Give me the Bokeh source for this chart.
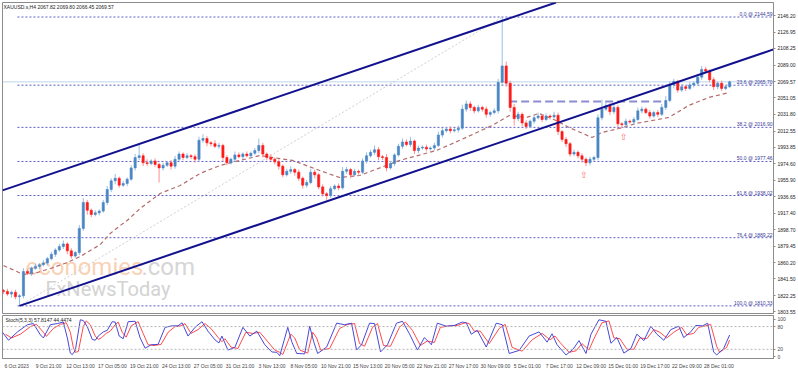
from bokeh.plotting import figure
from bokeh.models import Range1d, FixedTicker, Span, NumeralTickFormatter
from bokeh.layouts import column
from bokeh.embed import file_html
from bokeh.resources import INLINE
from bokeh.core.properties import value

FONT = "Liberation Sans"
SMALL = "5px"

# ---------------- data (bar index = one candle, ~8h) ----------------
first_open = 1828
closes = [
    1827, 1824, 1826, 1821, 1822, 1850, 1848, 1854, 1856, 1858,
    1860, 1865, 1870, 1875, 1879, 1882, 1874, 1868, 1872, 1900,
    1930, 1921, 1916, 1918, 1920, 1930, 1945, 1955, 1958, 1950,
    1952, 1957, 1970, 1982, 1984, 1976, 1975, 1978, 1974, 1970,
    1973, 1976, 1972, 1980, 1986, 1982, 1984, 1983, 1980, 2002,
    2004, 1999, 1998, 1995, 1996, 1982, 1976, 1980, 1985, 1983,
    1986, 1984, 1987, 1990, 1996, 1986, 1982, 1980, 1977, 1972,
    1962, 1966, 1968, 1965, 1958, 1950, 1953, 1965, 1962, 1948,
    1940, 1938, 1946, 1949, 1947, 1966, 1968, 1962, 1966, 1965,
    1978, 1984, 1988, 1991, 1983, 1982, 1970, 1975, 1985, 1995,
    2000, 1997, 2001, 1990, 1993, 1994, 1992, 1993, 1996, 2008,
    2013, 2015, 2013, 2014, 2016, 2038, 2044, 2040, 2036, 2040,
    2038, 2032, 2034, 2036, 2069, 2088, 2068, 2040, 2027, 2032,
    2022, 2018, 2024, 2028, 2030, 2026, 2030, 2029, 2031, 2012,
    2003, 1998, 1986, 1988, 1984, 1980, 1976, 1980, 1982, 2028,
    2038, 2042, 2035, 2040, 2021, 2020, 2024, 2023, 2026, 2036,
    2038, 2034, 2030, 2034, 2032, 2040, 2048, 2066, 2070, 2060,
    2064, 2062, 2066, 2068, 2075, 2084, 2082, 2072, 2064, 2068,
    2062, 2064, 2069.57,
]
wick_up = [
    2, 3, 2, 3, 2, 4, 3, 2, 3, 2,
    3, 2, 3, 2, 3, 4, 2, 3, 2, 4,
    5, 3, 2, 3, 2, 3, 4, 3, 5, 2,
    3, 2, 3, 4, 14, 3, 4, 2, 3, 2,
    3, 2, 3, 4, 3, 2, 3, 2, 3, 4,
    5, 3, 2, 4, 3, 2, 3, 2, 4, 3,
    2, 3, 2, 3, 8, 3, 2, 4, 2, 3,
    2, 3, 4, 2, 3, 2, 3, 4, 3, 2,
    3, 2, 3, 2, 3, 5, 3, 2, 3, 2,
    3, 4, 3, 5, 3, 2, 4, 3, 2, 3,
    4, 3, 5, 2, 3, 2, 3, 2, 3, 4,
    3, 2, 3, 2, 3, 5, 4, 3, 2, 3,
    2, 3, 2, 3, 4, 56.59, 5, 3, 4, 3,
    2, 3, 2, 3, 4, 2, 3, 2, 4, 3,
    2, 3, 2, 3, 2, 3, 2, 3, 2, 4,
    11, 4, 3, 4, 3, 2, 3, 2, 3, 4,
    3, 2, 3, 2, 3, 4, 5, 4, 3, 2,
    3, 2, 3, 2, 4, 4, 3, 2, 3, 2,
    3, 2, 1.5,
]
wick_dn = [
    3, 2, 4, 3, 10.67, 3, 2, 3, 2, 3,
    2, 3, 2, 3, 2, 3, 4, 3, 2, 3,
    3, 5, 3, 2, 3, 2, 3, 3, 4, 3,
    2, 3, 2, 3, 3, 4, 3, 2, 3, 17,
    3, 2, 4, 3, 2, 3, 2, 3, 4, 3,
    3, 4, 3, 2, 3, 4, 3, 2, 3, 2,
    3, 2, 3, 2, 3, 4, 3, 2, 3, 4,
    3, 2, 3, 4, 3, 4, 3, 2, 4, 3,
    3, 5, 3, 2, 3, 2, 3, 4, 2, 3,
    2, 3, 2, 3, 4, 3, 4, 2, 3, 2,
    3, 2, 3, 4, 3, 2, 3, 2, 3, 2,
    3, 2, 3, 2, 3, 2, 3, 4, 3, 2,
    3, 4, 3, 2, 3, 3, 4, 5, 8, 3,
    4, 3, 2, 3, 2, 3, 2, 3, 2, 4,
    3, 4, 3, 2, 3, 4, 4, 3, 2, 3,
    3, 2, 4, 3, 4, 4, 3, 2, 3, 2,
    3, 2, 3, 2, 3, 2, 3, 2, 4, 3,
    2, 3, 2, 3, 2, 3, 2, 3, 4, 3,
    3, 2, 1.5,
]

# moving average (bar, price)
ma_points = [(0, 1857), (5, 1846.6), (8.5, 1848.9), (11.75, 1853.6), (16, 1860.5),
             (19.25, 1867.5), (21.75, 1874.4), (24.25, 1881.3), (26.75, 1894.1),
             (29.25, 1903.3), (31, 1909.1), (34.25, 1923), (39.25, 1940.4),
             (44.25, 1949.6), (49.25, 1963.5), (54.25, 1972.8), (59.25, 1978.6),
             (64.25, 1984.3), (72.5, 1978.6), (79.25, 1967), (84.25, 1958.9),
             (89.25, 1961.2), (99.25, 1978.6), (108.5, 1990.1), (114.25, 2001.7),
             (122.5, 2019.1), (126.75, 2030.6), (131, 2028.3), (134.25, 2033),
             (138.5, 2024.9), (141.75, 2016.8), (147.5, 2005.2), (150, 2011),
             (154.25, 2015.6), (158.5, 2021.4), (166.75, 2028.3), (171.75, 2042.2),
             (176.75, 2051.5), (182, 2057.3)]

# Fibonacci retracement
fib_pcts = [0.0, 23.6, 38.2, 50.0, 61.8, 76.4, 100.0]
fib_prices = [2144.59, 2065.70, 2016.90, 1977.46, 1938.02, 1889.22, 1810.33]
fib_start_bar = 3.5
fib_trend_bars = [4, 125]
fib_trend_prices = [1810.33, 2144.59]

# channel lines
chan_lower_bars = [4, 193]
chan_lower_prices = [1810.33, 2107.1]
chan_upper_bars = [-0.25, 138.5]
chan_upper_prices = [1944.0, 2161.4]

# horizontal resistance (dashed)
res_bars = [126.75, 166]
res_price = 2046.8

# arrow markers
arrow_bars = [145.5, 155.5]
arrow_prices = [1961.2, 2006.3]

last_price = 2069.57
price_ticks = [2146.20, 2126.95, 2108.25, 2089.00, 2069.57, 2051.05, 2031.80, 2012.55,
               1993.85, 1974.60, 1955.90, 1936.65, 1917.40, 1898.70, 1879.45,
               1860.20, 1841.50, 1822.25, 1803.55]

time_labels = ["6 Oct 2023", "9 Oct 21:00", "12 Oct 13:00", "17 Oct 05:00",
               "19 Oct 21:00", "24 Oct 13:00", "27 Oct 05:00", "31 Oct 21:00",
               "3 Nov 13:00", "8 Nov 05:00", "10 Nov 21:00", "15 Nov 13:00",
               "20 Nov 05:00", "22 Nov 21:00", "27 Nov 17:00", "30 Nov 09:00",
               "5 Dec 01:00", "7 Dec 17:00", "12 Dec 09:00", "15 Dec 01:00",
               "19 Dec 17:00", "22 Dec 09:00", "28 Dec 01:00"]
time_label_bars = [8 * j for j in range(len(time_labels))]

stoch_main = [(-0.25, 65), (1.25, 44), (3.5, 66), (6, 85), (7.5, 88), (9.25, 58), (10, 50),
              (11.75, 85), (13.5, 88), (15, 92), (16, 50), (16.75, 10), (17.25, 6), (18, 17),
              (19.25, 98), (20, 96), (21, 80), (22.25, 46), (23, 44), (23.75, 55), (25, 66),
              (26, 70), (27.25, 93), (28, 92), (29, 55), (30, 48), (31.25, 93), (33, 94),
              (34.25, 50), (35.5, 23), (37, 32), (38.75, 33), (40.5, 78), (42.25, 82),
              (43.75, 82), (44.75, 90), (46.25, 55), (48, 78), (49.75, 93), (51.25, 68),
              (53, 45), (54, 37), (54.75, 55), (56.25, 18), (58, 25), (60, 78), (61.75, 55),
              (63.5, 68), (65.5, 32), (67.25, 13), (68.5, 12), (69.25, 3), (71.25, 78),
              (72.25, 40), (73.5, 9), (75.5, 8), (76.75, 81), (77.75, 40), (78.75, 9),
              (81, 26), (83.5, 89), (85.5, 85), (87.25, 89), (88.5, 18), (89.75, 32),
              (91.75, 89), (93, 88), (94.5, 13), (96.25, 32), (98.5, 89), (100, 94),
              (101.75, 61), (103.75, 18), (105.5, 51), (107.25, 32), (108.75, 89), (111, 81),
              (113, 83), (115, 92), (116, 90), (117.25, 60), (118.75, 70), (121, 26),
              (123.5, 89), (125, 85), (126.75, 9), (129.25, 17), (131.75, 55), (134.25, 66),
              (136.25, 39), (137.5, 61), (138.75, 32), (141, 5), (142.75, 20), (144.25, 43),
              (146, 9), (147.25, 60), (149.25, 98), (151, 94), (152.25, 36), (153.75, 51),
              (155.5, 10), (157.25, 22), (158.75, 60), (160.5, 43), (162.25, 81),
              (163.75, 60), (165.5, 44), (167.25, 72), (169.25, 81), (170.5, 51),
              (172.25, 66), (173.5, 83), (175.25, 82), (176.5, 89), (178, 13), (178.75, 5),
              (180.5, 22), (182, 57.81)]
stoch_signal = [(0.5, 60), (2, 50), (4.25, 60), (6.75, 80), (8.25, 86), (10, 65), (10.75, 54),
                (12.5, 75), (14.25, 86), (15.75, 90), (16.75, 65), (17.5, 25), (18, 12),
                (18.75, 14), (20, 80), (20.75, 95), (21.75, 85), (23, 55), (23.75, 46),
                (24.5, 50), (25.75, 62), (26.75, 68), (28, 85), (28.75, 92), (29.75, 65),
                (30.75, 52), (32, 82), (33.75, 93), (35, 62), (36.25, 32), (37.75, 30),
                (39.5, 33), (41.25, 65), (43, 80), (44.5, 82), (45.5, 88), (47, 62),
                (48.75, 72), (50.5, 88), (52, 75), (53.75, 52), (54.75, 40), (55.5, 48),
                (57, 26), (58.75, 22), (60.75, 65), (62.5, 62), (64.25, 65), (66.25, 40),
                (68, 18), (69.25, 12), (70, 6), (72, 60), (73, 50), (74.25, 18), (76.25, 10),
                (77.5, 65), (78.5, 50), (79.5, 18), (81.75, 22), (84.25, 75), (86.25, 86),
                (88, 88), (89.25, 35), (90.5, 28), (92.5, 78), (93.75, 88), (95.25, 30),
                (97, 28), (99.25, 78), (100.75, 92), (102.5, 70), (104.5, 30), (106.25, 42),
                (108, 38), (109.5, 78), (111.75, 82), (113.75, 83), (115.75, 90),
                (116.75, 88), (118, 68), (119.5, 68), (121.75, 35), (124.25, 75),
                (125.75, 86), (127.5, 25), (130, 15), (132.5, 45), (135, 62), (137, 45),
                (138.25, 55), (139.5, 38), (141.75, 12), (143.5, 16), (145, 35),
                (146.75, 18), (148, 48), (150, 90), (151.75, 95), (153, 50), (154.5, 48),
                (156.25, 20), (158, 20), (159.5, 50), (161.25, 48), (163, 72), (164.5, 65),
                (166.25, 50), (168, 65), (170, 78), (171.25, 58), (173, 62), (174.25, 78),
                (176, 82), (177.25, 86), (178.75, 28), (179.5, 12), (181.25, 25),
                (182, 44.45)]

# ---------------- derived OHLC ----------------
opens = [first_open] + closes[:-1]
bars = list(range(len(closes)))
tops = [max(o, c) for o, c in zip(opens, closes)]
bots = [min(o, c) for o, c in zip(opens, closes)]
highs = [t + w for t, w in zip(tops, wick_up)]
lows = [b - w for b, w in zip(bots, wick_dn)]
bull = [c >= o for o, c in zip(opens, closes)]
body_col = ["#4a86c4" if b else "#ff1a1a" for b in bull]
wick_col = ["#96bfe4" if b else "#ff9090" for b in bull]

X0, X1 = -0.25, 193
Y0, Y1 = 1801.5, 2161.4

main = figure(width=798, height=314, x_range=Range1d(X0, X1), y_range=Range1d(Y0, Y1),
              x_axis_location=None, y_axis_location="right", output_backend="svg",
              toolbar_location=None, min_border_left=2, min_border_right=23,
              min_border_top=2, min_border_bottom=1)
main.grid.visible = False
main.outline_line_color = "#8c8c8c"
ya = main.yaxis[0]
ya.ticker = FixedTicker(ticks=price_ticks)
ya.formatter = NumeralTickFormatter(format="0.00")
ya.major_label_text_font_size = SMALL
ya.major_label_text_font = FONT
ya.major_label_text_color = "#222222"
ya.major_label_standoff = 2
ya.major_tick_out = 2
ya.major_tick_in = 0
ya.minor_tick_line_color = None
ya.axis_line_color = "#8c8c8c"
ya.major_tick_line_color = "#8c8c8c"

# watermark
main.text(x=[5.5], y=[1855.1], text=["economies"], text_font=value("Roboto"),
          text_font_size="24px", text_color="#f7c6a2", text_alpha=0.8,
          text_baseline="alphabetic")
main.text(x=[48], y=[1855.1], text=[".com"], text_font=value("Roboto"),
          text_font_size="24px", text_color="#d6d6d6", text_align="right",
          text_baseline="alphabetic")
main.text(x=[10.5], y=[1829.3], text=["FxNewsToday"], text_font=value("Roboto"),
          text_font_size="20px", text_color="#d3d3d3", text_baseline="alphabetic")

# bid line
main.line([X0, X1], [last_price, last_price], line_color="#bcd6ea", line_width=1)

# fibonacci
for pct, pr in zip(fib_pcts, fib_prices):
    main.line([fib_start_bar, X1], [pr, pr], line_color="#5a5ac8", line_width=1, line_dash="2 2")
main.text(x=[X1] * len(fib_prices), y=fib_prices,
          text=[f"{p:.1f} @ {v:.2f}" for p, v in zip(fib_pcts, fib_prices)],
          text_align="right", text_baseline="bottom", x_offset=-1, y_offset=0,
          text_font=value(FONT), text_font_size=SMALL, text_color="#3a3a96")
main.line(fib_trend_bars, fib_trend_prices, line_color="#cfcfcf", line_width=1, line_dash="2 2")

# resistance dashed line
main.line(res_bars, [res_price, res_price], line_color="#8c8cd2", line_width=2, line_dash="8 4")

# moving average
main.line([p[0] for p in ma_points], [p[1] for p in ma_points], line_color="#b46a6a",
          line_width=1.2, line_dash="4 3")

# candles
main.segment(x0=bars, y0=highs, x1=bars, y1=lows, line_color=wick_col, line_width=1)
main.vbar(x=bars, top=tops, bottom=bots, width=0.55, fill_color=body_col, line_color=body_col,
          line_width=0.6)

# channel
main.line(chan_lower_bars, chan_lower_prices, line_color="#12128f", line_width=2)
main.line(chan_upper_bars, chan_upper_prices, line_color="#12128f", line_width=2)

# arrows
main.text(x=arrow_bars, y=arrow_prices, text=["\u21e7"] * len(arrow_bars), text_align="center",
          text_baseline="middle", text_font=value("DejaVu Sans"), text_font_size="9px",
          text_color="#ff7070")

# title
main.text(x=[0.0], y=[2156.5], text=["XAUUSD.s,H4  2067.82 2069.80 2066.45 2069.57"],
          text_baseline="middle", text_font=value(FONT), text_font_size=SMALL,
          text_color="#222222")

# ---------------- stochastic ----------------
st = figure(width=798, height=57, x_range=main.x_range, y_range=Range1d(-4.3, 109.3),
            y_axis_location="right", output_backend="svg", toolbar_location=None,
            min_border_left=2, min_border_right=23, min_border_top=1)
st.grid.visible = False
st.outline_line_color = "#8c8c8c"
for lv in (80, 20):
    st.add_layout(Span(location=lv, dimension="width", line_color="#b5b5b5",
                       line_dash="2 2", line_width=1))
st.line([p[0] for p in stoch_signal], [p[1] for p in stoch_signal], line_color="#ff4a4a",
        line_width=1)
st.line([p[0] for p in stoch_main], [p[1] for p in stoch_main], line_color="#4848d8",
        line_width=1)
st.text(x=[0.5], y=[96.5], text=["Stoch(5,3,3) 57.8147 44.4474"], text_baseline="middle",
        text_font=value(FONT), text_font_size=SMALL, text_color="#222222")

sy = st.yaxis[0]
sy.ticker = FixedTicker(ticks=[0, 20, 80, 100])
sy.major_label_text_font_size = SMALL
sy.major_label_text_font = FONT
sy.major_label_standoff = 2
sy.major_tick_out = 2
sy.major_tick_in = 0
sy.minor_tick_line_color = None
sy.axis_line_color = "#8c8c8c"
sy.major_tick_line_color = "#8c8c8c"

# time labels start at their bar (MT4 style): centre each label a little right of its bar
label_shift = 3.3
shifted = [b + label_shift for b in time_label_bars]
sx = st.xaxis[0]
sx.ticker = FixedTicker(ticks=shifted)
sx.major_label_overrides = {s: l for s, l in zip(shifted, time_labels)}
sx.major_label_text_font_size = SMALL
sx.major_label_text_font = FONT
sx.major_label_standoff = 2
sx.major_tick_out = 2
sx.major_tick_in = 0
sx.major_tick_line_color = None
sx.minor_tick_line_color = None
sx.axis_line_color = "#8c8c8c"

layout = column(main, st, spacing=0)
open("out.html", "w").write(file_html(layout, INLINE))
